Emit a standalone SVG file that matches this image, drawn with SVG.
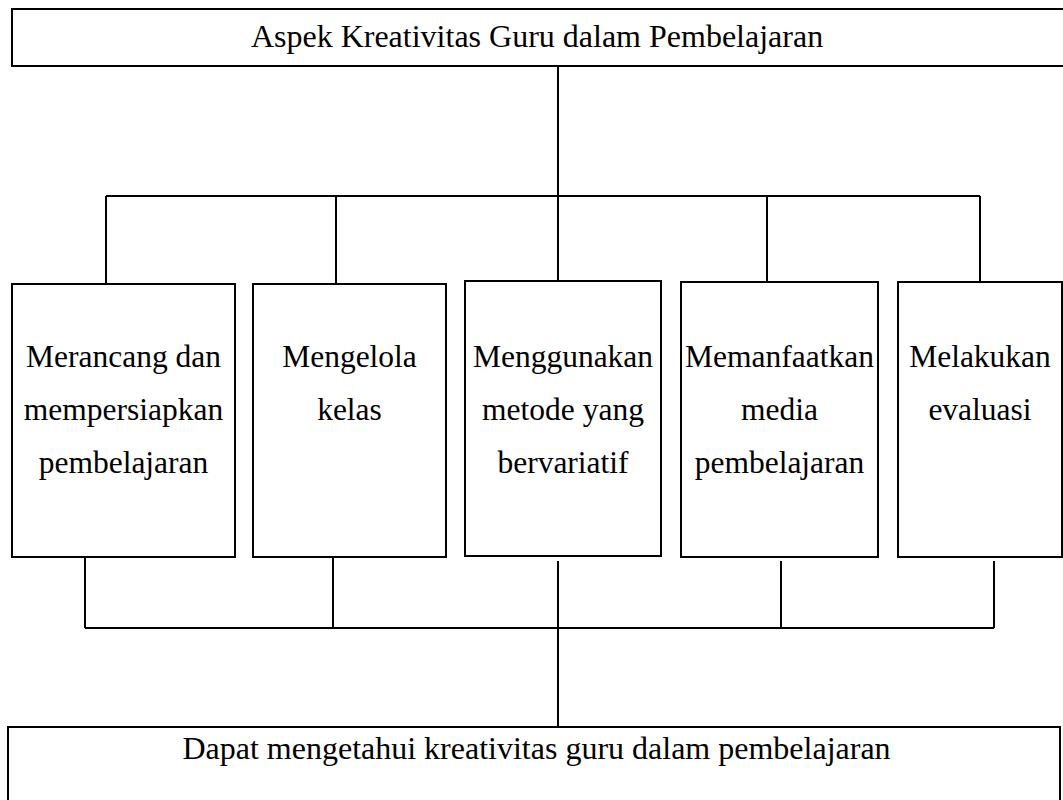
<svg xmlns="http://www.w3.org/2000/svg" width="1063" height="800" viewBox="0 0 1063 800">
<style>
.box{fill:#fff;stroke:#000;stroke-width:2}
.t{font-family:'Liberation Serif','Times New Roman',Times,serif;font-size:31.5px;fill:#000;text-anchor:middle}
.big{font-size:32px}
.c{fill:none;stroke:#000;stroke-width:2}
</style>
<rect width="1063" height="800" fill="#fff"/>
<g id="connectors">
<path class="c" d="M558 66V196M106 196H980M106 196V284M336 196V284M558 196V281M767 196V282M980 196V282"/>
<path class="c" d="M85 557V628M333 557V628M558 561V727M781 561V628M994 561V628M85 628H994"/>
</g>
<g id="top"><rect class="box" x="12" y="9" width="1060" height="57"/><text class="t big" x="537" y="47">Aspek Kreativitas Guru dalam Pembelajaran</text></g>
<g id="n1"><rect class="box" x="12" y="284" width="223" height="273"/><text class="t" x="123.5" y="367">Merancang dan</text><text class="t" x="123.5" y="420">mempersiapkan</text><text class="t" x="123.5" y="473">pembelajaran</text></g>
<g id="n2"><rect class="box" x="253" y="284" width="193" height="273"/><text class="t" x="349.5" y="367">Mengelola</text><text class="t" x="349.5" y="420">kelas</text></g>
<g id="n3"><rect class="box" x="465" y="281" width="196" height="275"/><text class="t" x="563" y="367">Menggunakan</text><text class="t" x="563" y="420">metode yang</text><text class="t" x="563" y="473">bervariatif</text></g>
<g id="n4"><rect class="box" x="681" y="282" width="197" height="275"/><text class="t" x="779.5" y="367">Memanfaatkan</text><text class="t" x="779.5" y="420">media</text><text class="t" x="779.5" y="473">pembelajaran</text></g>
<g id="n5"><rect class="box" x="898" y="282" width="164" height="275"/><text class="t" x="980" y="367">Melakukan</text><text class="t" x="980" y="420">evaluasi</text></g>
<g id="bottom"><rect class="box" x="8" y="727" width="1052" height="90"/><text class="t big" x="536.5" y="759">Dapat mengetahui kreativitas guru dalam pembelajaran</text></g>
</svg>
